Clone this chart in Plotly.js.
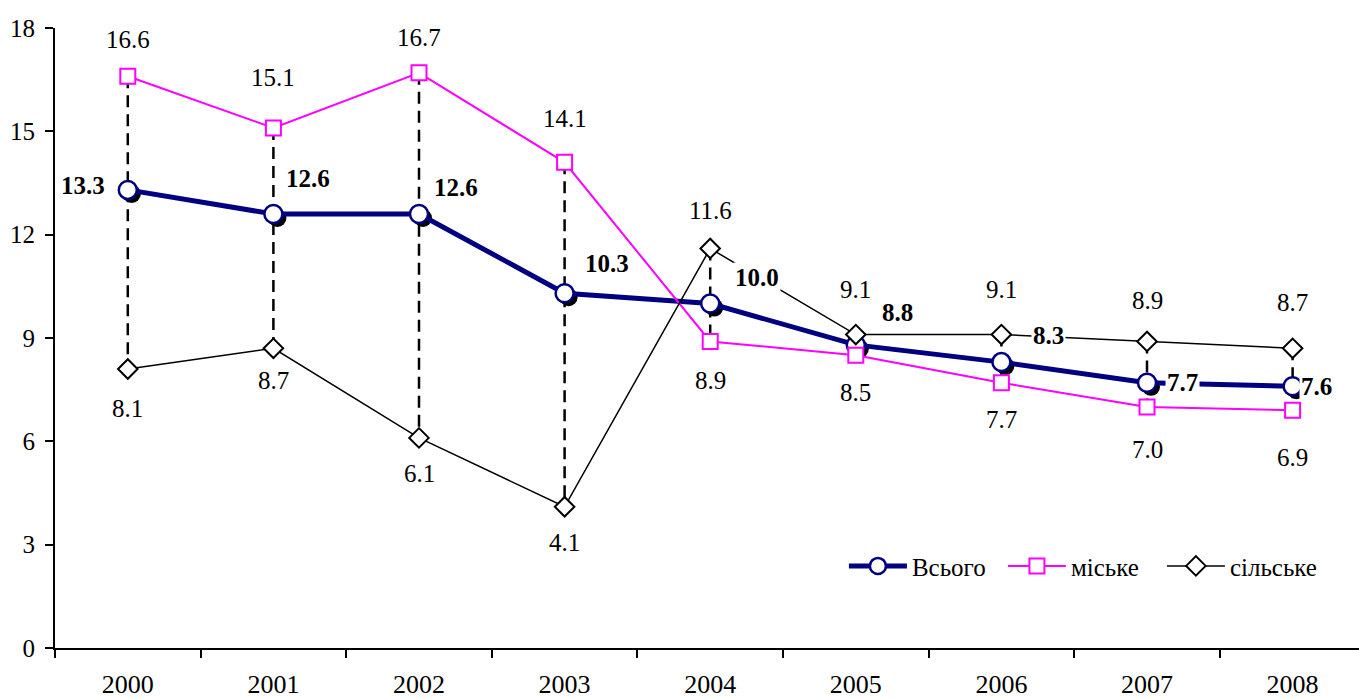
<!DOCTYPE html>
<html>
<head>
<meta charset="utf-8">
<script src="https://cdn.plot.ly/plotly-3.0.1.min.js"></script>
<style>html,body{margin:0;padding:0;background:#fff;}#chart{width:1359px;height:699px;}</style>
</head>
<body>
<div id="chart"></div>
<script>
// ---- data ----
const years = ['2000','2001','2002','2003','2004','2005','2006','2007','2008'];
const total = [13.3, 12.6, 12.6, 10.3, 10.0, 8.8, 8.3, 7.7, 7.6];
const urban = [16.6, 15.1, 16.7, 14.1, 8.9, 8.5, 7.7, 7.0, 6.9];
const rural = [8.1, 8.7, 6.1, 4.1, 11.6, 9.1, 9.1, 8.9, 8.7];
const seriesNames = ['Всього', 'міське', 'сільське'];

// ---- label placement (pixels) ----
const totalDX = [-45, 35, 37, 42, 47, 42, 47, 35, 24];
const totalDY = [4, 36, 27, 30, 26, 32, 27, 0, 0];
const urbanDY = [37, 50, 35, 44, -39, -37, -37, -43, -47];
const ruralDY = [-39, -32, -36, -36, 38, 45, 45, 41, 46];

const FONT = 'Liberation Serif';
const FS = 25;
const yMin = 0, yMax = 18;
const xMin = -0.5, xMax = 8.456;
const plotW = 1359 - 55, plotH = 699 - 28 - 51;
const shX = 4 * (xMax - xMin) / plotW;
const shY = 4 * (yMax - yMin) / plotH;

// high-low lines (max to min of the three series at each year)
const hlX = [], hlY = [];
years.forEach((yr, i) => {
  const vals = [total[i], urban[i], rural[i]];
  hlX.push(yr, yr, null);
  hlY.push(Math.max(...vals), Math.min(...vals), null);
});

const traces = [
  { // shadow behind the total markers
    x: years, y: total, xaxis: 'x', yaxis: 'y', mode: 'markers', showlegend: false, hoverinfo: 'skip',
    marker: { symbol: 'circle', size: 18, color: '#000', line: { width: 0 } }
  },
  {
    x: hlX, y: hlY, xaxis: 'x2', yaxis: 'y2', mode: 'lines', showlegend: false, hoverinfo: 'skip',
    line: { color: '#000', width: 2.5, dash: '12px,7px' }
  },
  {
    x: years, y: total, xaxis: 'x2', yaxis: 'y2', name: seriesNames[0], mode: 'lines+markers',
    line: { color: '#000080', width: 5 },
    marker: { symbol: 'circle', size: 18, color: '#fff', line: { color: '#000080', width: 2.5 } }
  },
  {
    x: years, y: urban, xaxis: 'x2', yaxis: 'y2', name: seriesNames[1], mode: 'lines+markers',
    line: { color: '#FF00FF', width: 2 },
    marker: { symbol: 'square', size: 15, color: '#fff', line: { color: '#FF00FF', width: 2 } }
  },
  {
    x: years, y: rural, xaxis: 'x2', yaxis: 'y2', name: seriesNames[2], mode: 'lines+markers',
    line: { color: '#000', width: 1.5 },
    marker: { symbol: 'diamond', size: 15, color: '#fff', line: { color: '#000', width: 2 } }
  }
];

const annotations = [];
const fmt = v => v.toFixed(1);
years.forEach((yr, i) => {
  annotations.push({ x: i, y: total[i], xref: 'x2', yref: 'y2', text: '<b>' + fmt(total[i]) + '</b>',
    showarrow: false, xshift: totalDX[i], yshift: totalDY[i], bgcolor: '#fff', borderpad: 1,
    font: { family: FONT, size: FS, color: '#000' } });
  annotations.push({ x: i, y: urban[i], xref: 'x2', yref: 'y2', text: fmt(urban[i]),
    showarrow: false, yshift: urbanDY[i], bgcolor: '#fff', borderpad: 1,
    font: { family: FONT, size: FS, color: '#000' } });
  annotations.push({ x: i, y: rural[i], xref: 'x2', yref: 'y2', text: fmt(rural[i]),
    showarrow: false, yshift: ruralDY[i], bgcolor: '#fff', borderpad: 1,
    font: { family: FONT, size: FS, color: '#000' } });
});

const layout = {
  width: 1359, height: 699,
  margin: { l: 55, r: 0, t: 28, b: 51, autoexpand: false },
  paper_bgcolor: '#fff', plot_bgcolor: '#fff',
  font: { family: FONT, size: FS, color: '#000' },
  showlegend: true,
  legend: { orientation: 'h', x: 0.605, y: 0.132, xanchor: 'left', yanchor: 'middle',
    itemwidth: 58, entrywidth: 86, bgcolor: 'rgba(0,0,0,0)', font: { family: FONT, size: FS } },
  xaxis: { type: 'category', visible: false, range: [xMin - shX, xMax - shX], fixedrange: true },
  yaxis: { visible: false, range: [yMin + shY, yMax + shY], fixedrange: true },
  xaxis2: { type: 'category', overlaying: 'x', anchor: 'y2', side: 'bottom', range: [xMin, xMax],
    showline: true, linecolor: '#000', linewidth: 2, showgrid: false, zeroline: false,
    ticks: 'outside', tickson: 'boundaries', ticklen: 8, tickwidth: 2, tickcolor: '#000',
    ticklabelstandoff: 12, tickfont: { family: FONT, size: 26 } },
  yaxis2: { overlaying: 'y', anchor: 'x2', side: 'left', range: [yMin, yMax], dtick: 3, tick0: 0,
    showline: true, linecolor: '#000', linewidth: 2, showgrid: false, zeroline: false,
    ticks: 'outside', ticklen: 8, tickwidth: 2, tickcolor: '#000', ticklabelstandoff: 5,
    tickfont: { family: FONT, size: FS } },
  annotations: annotations
};

Plotly.newPlot('chart', traces, layout, { displayModeBar: false, staticPlot: true });
</script>
</body>
</html>
